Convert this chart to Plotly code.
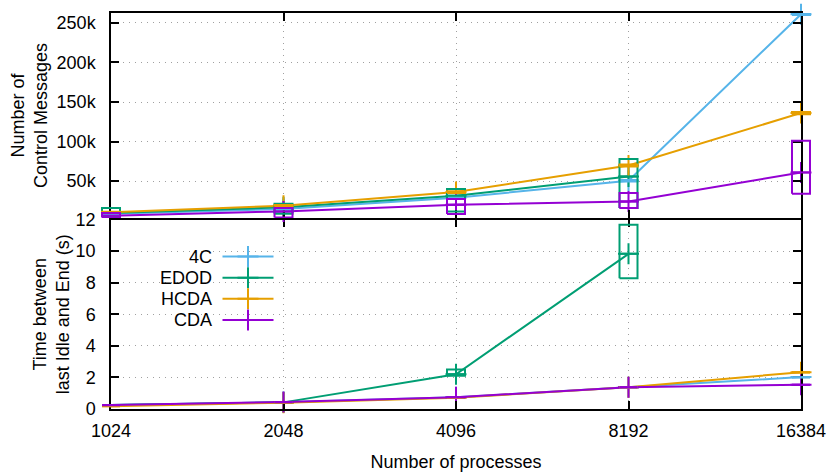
import math
import plotly.graph_objects as go

# ---------------- data ----------------
procs = [1024, 2048, 4096, 8192, 16384]
series = ["4C", "EDOD", "HCDA", "CDA"]
colors = ["#56b4e9", "#009e73", "#e69f00", "#9400d3"]

# Number of control messages (top panel): value, box low, box high
msg_4c = [8500, 14600, 28900, 50400, 261000]
msg_edod = [9600, 16700, 31400, 55800, None]
msg_hcda = [10400, 18800, 36000, 69700, 136000]
msg_cda = [6200, 11600, 20000, 24200, 60900]

msg_lo_4c = [8000, 14000, 28000, 49500, 260000]
msg_hi_4c = [9000, 15200, 29800, 51300, 262000]
msg_lo_edod = [5300, 8700, 11600, 15900, None]
msg_hi_edod = [15900, 21300, 39900, 77800, None]
msg_lo_hcda = [9800, 18000, 35000, 68500, 134500]
msg_hi_hcda = [11000, 19600, 37000, 71000, 137500]
msg_lo_cda = [4000, 4000, 8300, 15900, 34000]
msg_hi_cda = [9600, 15900, 27300, 34800, 100900]

# Time between last Idle and End (s) (bottom panel)
time_4c = [0.25, 0.42, 0.74, 1.38, 2.02]
time_edod = [0.25, 0.42, 2.2, 9.83, None]
time_hcda = [0.18, 0.40, 0.72, 1.38, 2.33]
time_cda = [0.25, 0.44, 0.75, 1.38, 1.54]

time_lo_4c = [0.24, 0.41, 0.73, 1.37, 2.0]
time_hi_4c = [0.26, 0.43, 0.75, 1.39, 2.04]
time_lo_edod = [0.24, 0.41, 2.1, 8.28, None]
time_hi_edod = [0.26, 0.43, 2.5, 11.67, None]
time_lo_hcda = [0.17, 0.39, 0.71, 1.37, 2.31]
time_hi_hcda = [0.19, 0.41, 0.73, 1.39, 2.35]
time_lo_cda = [0.24, 0.43, 0.74, 1.37, 1.52]
time_hi_cda = [0.26, 0.45, 0.76, 1.39, 1.56]

msg_vals = [msg_4c, msg_edod, msg_hcda, msg_cda]
msg_lo = [msg_lo_4c, msg_lo_edod, msg_lo_hcda, msg_lo_cda]
msg_hi = [msg_hi_4c, msg_hi_edod, msg_hi_hcda, msg_hi_cda]
time_vals = [time_4c, time_edod, time_hcda, time_cda]
time_lo = [time_lo_4c, time_lo_edod, time_lo_hcda, time_lo_cda]
time_hi = [time_hi_4c, time_hi_edod, time_hi_hcda, time_hi_cda]

msg_ticks = [50000, 100000, 150000, 200000, 250000]
msg_ticktext = ["50k", "100k", "150k", "200k", "250k"]
time_ticks = [0, 2, 4, 6, 8, 10, 12]
msg_range = [3100, 262600]
time_range = [0, 12]

# ---------------- layout geometry ----------------
W, H = 830, 472
ML, MR, MT, MB = 101, 19, 12.7, 63.4
EXT = 10                     # px allowance for boxes sticking out of the frame
LW = 1.5                     # frame line width
plot_w = W - ML - MR
plot_h = H - MT - MB
main_w = plot_w - 2 * EXT
xdom = [EXT / plot_w, 1 - EXT / plot_w]
bottom_px = H - MB
split_b = (bottom_px - (218.5 + LW / 2)) / plot_h
split_t = (bottom_px - (218.5 - LW / 2)) / plot_h

r0, r1 = math.log10(procs[0]), math.log10(procs[-1])
ext = EXT / main_w * (r1 - r0)
half_oct = 9 / (main_w / 4)  # box half-width in octaves

FONT = "Liberation Sans, Arial, sans-serif"
FS = 18

fig = go.Figure()


def box_trace(vals, lo, hi, color, yaxis):
    xs, ys = [], []
    for x, v, l, h in zip(procs, vals, lo, hi):
        if v is None:
            continue
        a, b = x * 2 ** (-half_oct), x * 2 ** half_oct
        xs += [a, b, b, a, a, None, a, b, None]
        ys += [l, l, h, h, l, None, v, v, None]
    return go.Scatter(x=xs, y=ys, mode="lines", xaxis="x3", yaxis=yaxis,
                      line=dict(color=color, width=2), showlegend=False,
                      hoverinfo="skip")


for i, name in enumerate(series):
    c = colors[i]
    # top panel
    fig.add_trace(go.Scatter(
        x=procs, y=msg_vals[i], mode="lines+markers", xaxis="x2", yaxis="y2",
        line=dict(color=c, width=2),
        marker=dict(symbol="cross-thin", size=15, line=dict(color=c, width=2)),
        cliponaxis=False, showlegend=False, name=name))
    # bottom panel
    fig.add_trace(go.Scatter(
        x=procs, y=time_vals[i], mode="lines+markers", xaxis="x", yaxis="y",
        line=dict(color=c, width=2),
        marker=dict(symbol="cross-thin", size=15, line=dict(color=c, width=2)),
        cliponaxis=False, showlegend=True, name=" ", legendrank=i))

for i in range(len(series)):
    fig.add_trace(box_trace(msg_vals[i], msg_lo[i], msg_hi[i], colors[i], "y2"))
    fig.add_trace(box_trace(time_vals[i], time_lo[i], time_hi[i], colors[i], "y"))

axis_common = dict(
    showline=True, linecolor="black", linewidth=LW, mirror="ticks",
    ticks="inside", ticklen=8, tickwidth=1.5, tickcolor="black",
    showgrid=False, zeroline=False, automargin=False,
    tickfont=dict(family=FONT, size=FS, color="black"),
)
xgrid = dict(showgrid=True, gridcolor="#a0a0a0", gridwidth=1,
             griddash="1px,5px")
grid_common = dict(
    showgrid=True, gridcolor="#a0a0a0", gridwidth=1, griddash="1px,5px",
    showline=False, ticks="", showticklabels=False, zeroline=False,
    automargin=False,
)

fig.update_layout(
    width=W, height=H,
    margin=dict(l=ML, r=MR, t=MT, b=MB, autoexpand=False),
    paper_bgcolor="white", plot_bgcolor="rgba(0,0,0,0)",
    font=dict(family=FONT, size=FS, color="black"),
    xaxis=dict(**{**axis_common, **xgrid},
               type="log", domain=xdom, range=[r0, r1],
               anchor="y", tickvals=procs, ticktext=[str(p) for p in procs],
               ticklabelstandoff=5,
               title=dict(text="Number of processes", standoff=17,
                          font=dict(family=FONT, size=FS))),
    xaxis2=dict(**{**axis_common, **xgrid},
                type="log", domain=xdom, range=[r0, r1],
                anchor="y2", tickvals=procs, showticklabels=False),
    xaxis3=dict(type="log", domain=[0, 1], range=[r0 - ext, r1 + ext],
                anchor="y", visible=False, showgrid=False, automargin=False),
    yaxis=dict(**axis_common, domain=[0, split_b], range=time_range, anchor="x",
               tickvals=time_ticks, ticklabelstandoff=10,
               title=dict(text="Time between<br>last Idle and End (s)",
                          standoff=1, font=dict(family=FONT, size=FS))),
    yaxis2=dict(**axis_common, domain=[split_t, 1], range=msg_range,
                anchor="x2", tickvals=msg_ticks, ticktext=msg_ticktext,
                ticklabelstandoff=10,
                title=dict(text="Number of<br>Control Messages", standoff=4,
                           font=dict(family=FONT, size=FS))),
    # grid-only overlay axes so the y grid spans just the framed area
    yaxis5=dict(**grid_common, overlaying="y", anchor="x", range=time_range,
                tickvals=time_ticks),
    yaxis6=dict(**grid_common, overlaying="y2", anchor="x2", range=msg_range,
                tickvals=msg_ticks),
    legend=dict(x=(217.5 - ML) / plot_w, y=1 - (240.5 - MT) / plot_h,
                xanchor="left", yanchor="top", bgcolor="rgba(0,0,0,0)",
                font=dict(family=FONT, size=14), itemwidth=51,
                tracegroupgap=0),
)

# invisible traces that attach the grid-only axes
fig.add_trace(go.Scatter(x=[procs[0]], y=[time_range[0]], xaxis="x", yaxis="y5",
                         mode="markers", marker=dict(opacity=0),
                         showlegend=False, hoverinfo="skip"))
fig.add_trace(go.Scatter(x=[procs[0]], y=[msg_range[0]], xaxis="x2", yaxis="y6",
                         mode="markers", marker=dict(opacity=0),
                         showlegend=False, hoverinfo="skip"))

# legend labels (text to the left of the samples, gnuplot style)
row0, row_gap = 256.7, 21.1
for i, name in enumerate(series):
    fig.add_annotation(
        text=name, xref="paper", yref="paper", showarrow=False,
        x=(214 - ML) / plot_w, y=1 - (row0 + i * row_gap - MT) / plot_h,
        xanchor="right", yanchor="middle",
        font=dict(family=FONT, size=FS, color="black"))

fig.write_html("out.html", config={"displayModeBar": False},
               post_script="document.body.style.margin='0';")
